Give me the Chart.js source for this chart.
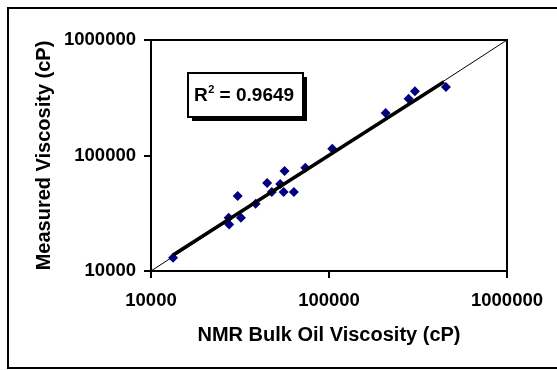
<!DOCTYPE html>
<html>
<head>
<meta charset="utf-8">
<script src="https://cdn.jsdelivr.net/npm/chart.js@4/dist/chart.umd.min.js"></script>
<style>
  html, body { margin: 0; padding: 0; background: #fff; }
  #wrap { width: 557px; height: 370px; }
</style>
</head>
<body>
<div id="wrap"><canvas id="viscchart" width="557" height="370"></canvas></div>
<script>
// NMR-derived vs measured viscosity, both in cP
const nmrVisc = [13300, 27300, 27500, 30700, 32000, 38700, 44900, 47700, 53200, 55600, 56300, 63500, 73600, 104300, 208000, 280000, 304000, 454000];
const measVisc = [13000, 28900, 25300, 44500, 28900, 38300, 57800, 48300, 56600, 48300, 73400, 48300, 78300, 114500, 233000, 310000, 360000, 392000];

// fitted trend end points and the 1:1 reference line
const trendX = [13300, 443000];
const trendY = [13750, 435000];
const unityX = [10000, 1000000];
const unityY = [10000, 1000000];

const axisTicks = [10000, 100000, 1000000];
const rSquared = '0.9649';

function toPoints(xs, ys) {
    let arr = [];
    for (let i = 0; i < xs.length; i++) {
        arr.push({ x: xs[i], y: ys[i] });
    }
    return arr;
}

const fontFamily = '"Liberation Sans", Arial, sans-serif';

// outer frame (open on the right), plot box and the R² label box
const framePlugin = {
    id: 'frame',
    beforeDraw(chart) {
        const ctx = chart.ctx;
        ctx.save();
        ctx.fillStyle = '#fff';
        ctx.fillRect(0, 0, chart.width, chart.height);
        ctx.strokeStyle = '#000';
        ctx.lineWidth = 2;
        ctx.beginPath();
        ctx.moveTo(chart.width + 5, 8);
        ctx.lineTo(8, 8);
        ctx.lineTo(8, 368);
        ctx.lineTo(chart.width + 5, 368);
        ctx.stroke();
        ctx.restore();
    },
    afterDraw(chart) {
        const ctx = chart.ctx;
        const a = chart.chartArea;
        ctx.save();
        ctx.strokeStyle = '#000';
        ctx.lineWidth = 2;
        ctx.strokeRect(a.left, a.top, a.right - a.left, a.bottom - a.top);

        // R² box with drop shadow
        const bx = 188, by = 73, bw = 115, bh = 44;
        ctx.fillStyle = '#000';
        ctx.fillRect(bx + 4, by + 4, bw, bh);
        ctx.fillStyle = '#fff';
        ctx.fillRect(bx, by, bw, bh);
        ctx.lineWidth = 2;
        ctx.strokeRect(bx, by, bw, bh);

        ctx.fillStyle = '#000';
        ctx.textBaseline = 'alphabetic';
        ctx.textAlign = 'left';
        ctx.font = 'bold 19px ' + fontFamily;
        let tx = bx + 6;
        const base = by + 28;
        ctx.fillText('R', tx, base);
        tx += ctx.measureText('R').width;
        ctx.font = 'bold 11px ' + fontFamily;
        ctx.fillText('2', tx + 0.5, base - 8);
        tx += ctx.measureText('2').width + 0.5;
        ctx.font = 'bold 19px ' + fontFamily;
        ctx.fillText(' = ' + rSquared, tx, base);
        ctx.restore();
    }
};

const config = {
    type: 'scatter',
    data: {
        datasets: [
            {
                type: 'line',
                label: 'Trend',
                data: toPoints(trendX, trendY),
                borderColor: '#000',
                borderWidth: 3.5,
                pointRadius: 0,
                order: 0
            },
            {
                label: 'Samples',
                data: toPoints(nmrVisc, measVisc),
                backgroundColor: '#000080',
                borderColor: '#000080',
                pointStyle: 'rectRot',
                pointRadius: 5,
                borderWidth: 0,
                order: 1
            },
            {
                type: 'line',
                label: '1:1',
                data: toPoints(unityX, unityY),
                borderColor: '#000',
                borderWidth: 1,
                pointRadius: 0,
                order: 2
            }
        ]
    },
    options: {
        responsive: false,
        animation: false,
        layout: { padding: { top: 40, right: 50, left: 8, bottom: 8 } },
        plugins: {
            legend: { display: false },
            tooltip: { enabled: false }
        },
        scales: {
            x: {
                type: 'logarithmic',
                min: 10000,
                max: 1000000,
                afterBuildTicks: scale => { scale.ticks = axisTicks.map(v => ({ value: v })); },
                afterFit: scale => { scale.height = 370 - 271 - 8; },
                grid: { drawOnChartArea: false, color: '#000', lineWidth: 2, tickLength: 7 },
                border: { color: '#000', width: 2 },
                ticks: {
                    color: '#000',
                    font: { family: fontFamily, size: 18.5, weight: 'bold' },
                    padding: 12,
                    maxRotation: 0,
                    callback: v => String(v)
                },
                title: {
                    display: true,
                    text: 'NMR Bulk Oil Viscosity (cP)',
                    color: '#000',
                    font: { family: fontFamily, size: 20, weight: 'bold' },
                    padding: { top: 0, bottom: 15 }
                }
            },
            y: {
                type: 'logarithmic',
                min: 10000,
                max: 1000000,
                afterBuildTicks: scale => { scale.ticks = axisTicks.map(v => ({ value: v })); },
                afterFit: scale => { scale.width = 151 - 8; },
                grid: { drawOnChartArea: false, color: '#000', lineWidth: 2, tickLength: 7 },
                border: { color: '#000', width: 2 },
                ticks: {
                    color: '#000',
                    font: { family: fontFamily, size: 18.5, weight: 'bold' },
                    padding: 8,
                    callback: v => String(v)
                },
                title: {
                    display: true,
                    text: 'Measured Viscosity (cP)',
                    color: '#000',
                    font: { family: fontFamily, size: 20, weight: 'bold' },
                    padding: { top: 24, bottom: 0 }
                }
            }
        }
    },
    plugins: [framePlugin]
};

const viscChart = new Chart(document.getElementById('viscchart'), config);
</script>
</body>
</html>
